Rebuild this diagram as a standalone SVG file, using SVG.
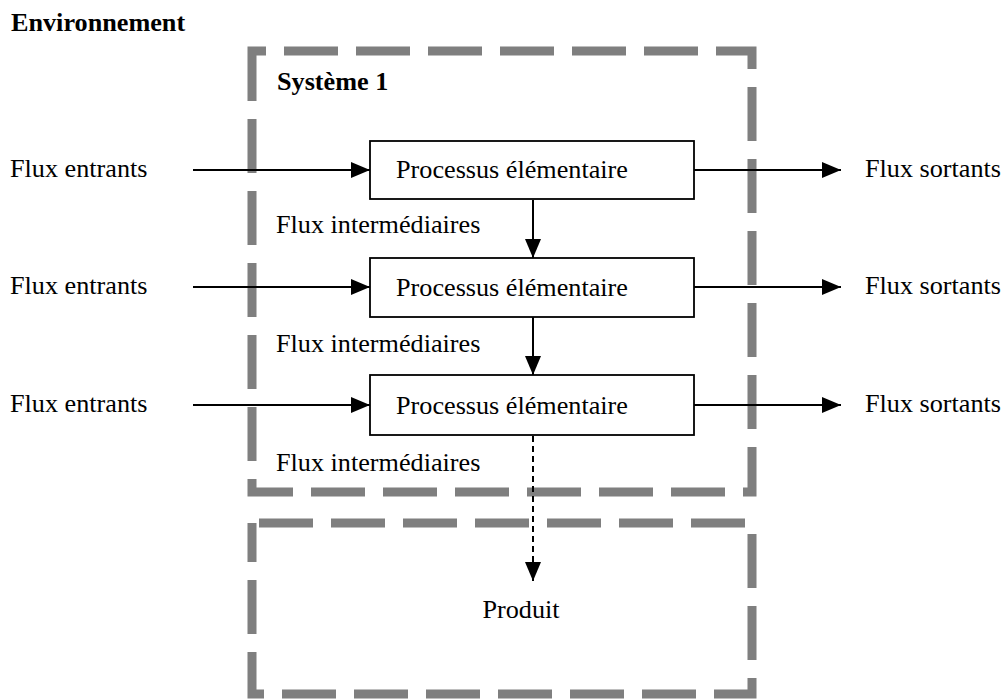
<svg xmlns="http://www.w3.org/2000/svg" width="1005" height="700" viewBox="0 0 1005 700">
<style>
.t{font-family:"Liberation Serif","Times New Roman",serif;font-size:26.2px;fill:#000}
.b{font-weight:bold}
.sys{fill:none;stroke:#7f7f7f;stroke-width:9;stroke-dasharray:54 18}
.box{fill:#fff;stroke:#000;stroke-width:1.8}
.ln{fill:none;stroke:#000;stroke-width:2}
.dl{fill:none;stroke:#000;stroke-width:2;stroke-dasharray:6 4}
</style>
<defs>
<marker id="ah" markerUnits="userSpaceOnUse" markerWidth="20" markerHeight="18" refX="19" refY="8" orient="auto">
<path d="M0,0 L19,8 L0,16 z" fill="#000"/>
</marker>
</defs>
<rect width="1005" height="700" fill="#fff"/>
<text class="t b" x="11" y="31">Environnement</text>
<g id="systeme1">
<path class="sys" d="M252 51 H752 V492 H252 Z" stroke-dashoffset="40"/>
<text class="t b" x="277" y="90">Système 1</text>
</g>
<g id="produit">
<path class="sys" d="M252 523 H752 V694 H252 Z" stroke-dashoffset="65"/>
<text class="t" x="521" y="618" text-anchor="middle">Produit</text>
</g>
<g id="connectors">
<line class="ln" x1="193" y1="170" x2="370" y2="170" marker-end="url(#ah)"/>
<line class="ln" x1="193" y1="287" x2="370" y2="287" marker-end="url(#ah)"/>
<line class="ln" x1="193" y1="405" x2="370" y2="405" marker-end="url(#ah)"/>
<line class="ln" x1="694" y1="170" x2="841" y2="170" marker-end="url(#ah)"/>
<line class="ln" x1="694" y1="287" x2="841" y2="287" marker-end="url(#ah)"/>
<line class="ln" x1="694" y1="405" x2="841" y2="405" marker-end="url(#ah)"/>
<line class="ln" x1="533" y1="200" x2="533" y2="258" marker-end="url(#ah)"/>
<line class="ln" x1="533" y1="317" x2="533" y2="375" marker-end="url(#ah)"/>
<line class="dl" x1="533" y1="436" x2="533" y2="581" marker-end="url(#ah)"/>
</g>
<g id="p1">
<rect class="box" x="370" y="141" width="324" height="58"/>
<text class="t" x="396" y="178">Processus élémentaire</text>
</g>
<g id="p2">
<rect class="box" x="370" y="258" width="324" height="59"/>
<text class="t" x="396" y="296">Processus élémentaire</text>
</g>
<g id="p3">
<rect class="box" x="370" y="375" width="324" height="60"/>
<text class="t" x="396" y="414">Processus élémentaire</text>
</g>
<g id="labels">
<text class="t" x="10" y="177">Flux entrants</text>
<text class="t" x="10" y="294">Flux entrants</text>
<text class="t" x="10" y="412">Flux entrants</text>
<text class="t" x="865" y="177">Flux sortants</text>
<text class="t" x="865" y="294">Flux sortants</text>
<text class="t" x="865" y="412">Flux sortants</text>
<text class="t" x="276" y="233">Flux intermédiaires</text>
<text class="t" x="276" y="352">Flux intermédiaires</text>
<text class="t" x="276" y="471">Flux intermédiaires</text>
</g>
</svg>
